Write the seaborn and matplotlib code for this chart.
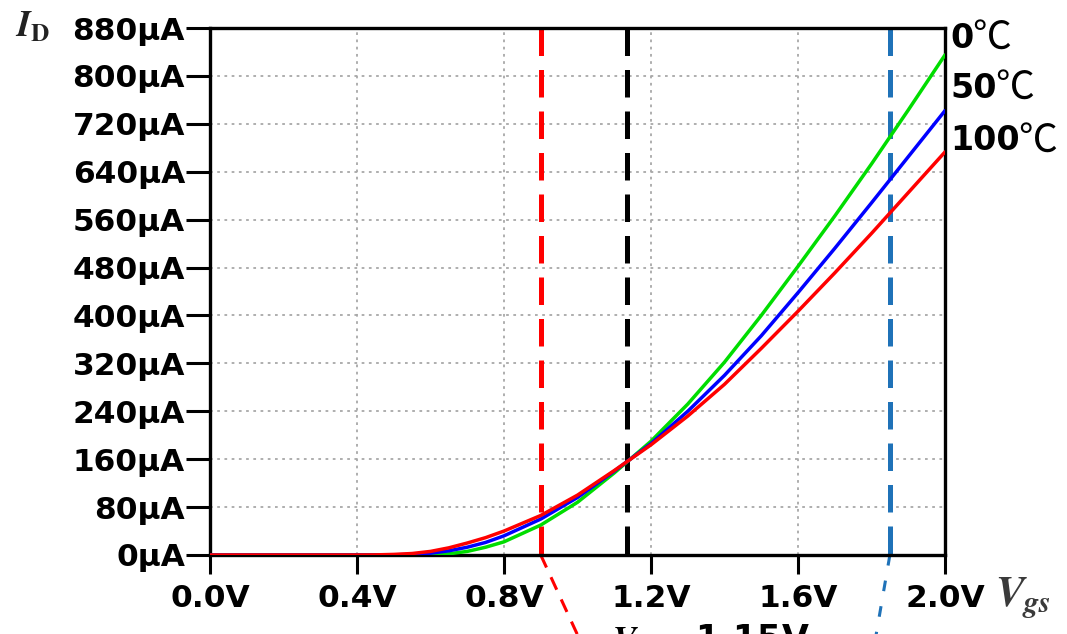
import matplotlib
matplotlib.use("Agg")
import matplotlib.pyplot as plt
import pandas as pd
import seaborn as sns

# Drain current versus gate-source voltage at three temperatures
vgs = [0.0, 0.4, 0.45, 0.5, 0.55, 0.6, 0.65, 0.7, 0.75, 0.8, 0.9, 1.0,
       1.1, 1.2, 1.3, 1.4, 1.5, 1.6, 1.7, 1.8, 1.9, 2.0]
id_0c = [0, 0, 0, 0, 0, 0.5, 2, 6, 13, 22, 50, 88,
         137, 190, 252, 322, 400, 482, 566, 653, 743, 835]
id_50c = [0, 0, 0, 0.3, 1, 3, 7, 13, 21, 32, 60, 96,
          140, 186, 240, 300, 366, 438, 512, 588, 665, 742]
id_100c = [0, 0, 0.2, 1, 2.5, 6, 12, 20, 29, 40, 66, 100,
           141, 184, 232, 285, 345, 407, 471, 537, 605, 673]

temp_values = ["0", "50", "100"]
temp_unit = "℃"
temps = [v + temp_unit for v in temp_values]
colors = ["#00dd00", "#0000ff", "#ff0000"]

y_ticks = [0, 80, 160, 240, 320, 400, 480, 560, 640, 720, 800, 880]
x_ticks = [0.0, 0.4, 0.8, 1.2, 1.6, 2.0]

# Marker voltages: low bound, zero-temperature-coefficient point, high bound
v_low = 0.9
v_ztc = 1.135
v_high = 1.85
ztc_label = "1.15V"

df = pd.concat([
    pd.DataFrame({"Vgs": vgs, "Id": vals, "T": t})
    for t, vals in zip(temps, [id_0c, id_50c, id_100c])
])

sns.set_theme(style="white")
plt.rcParams["font.family"] = ["DejaVu Sans", "Noto Sans CJK SC"]
plt.rcParams["font.weight"] = "bold"
plt.rcParams["mathtext.fontset"] = "stix"

fig = plt.figure(figsize=(10.67, 6.34), dpi=100)
ax = fig.add_axes([210 / 1067, 1 - 555 / 634, 735 / 1067, 527 / 634])

# Dashed marker lines behind the curves
dash = (0, (5.5, 2.8))
ax.plot([v_low, v_low], [880, 0], color="#ff0000", lw=3.6, ls=dash, zorder=2)
ax.plot([v_ztc, v_ztc], [880, 0], color="#000000", lw=3.6, ls=dash, zorder=2)
ax.plot([v_high, v_high], [880, 0], color="#1f72b8", lw=3.6, ls=dash, zorder=2)

sns.lineplot(data=df, x="Vgs", y="Id", hue="T", palette=colors,
             hue_order=temps, lw=2.5, legend=False, ax=ax, zorder=3)

# Leader lines running below the axis
ax.plot([v_low, 1.02], [0, -160], color="#ff0000", lw=2.2,
        ls=(0, (4.5, 3.5)), clip_on=False, zorder=2)
ax.plot([v_high, 1.805], [0, -160], color="#1f72b8", lw=2.2,
        ls=(0, (3.5, 5)), clip_on=False, zorder=2)

ax.set_xlim(0, 2.0)
ax.set_ylim(0, 880)
ax.set_xticks(x_ticks)
ax.set_xticklabels([f"{v:.1f}V" for v in x_ticks])
ax.set_yticks(y_ticks)
ax.set_yticklabels([f"{v}µA" for v in y_ticks])
ax.set_xlabel("")
ax.set_ylabel("")

ax.grid(True, color="#a8a8a8", ls=(0, (1.5, 2.5)), lw=1.3)
for s in ax.spines.values():
    s.set_color("black")
    s.set_linewidth(2.4)

ax.tick_params(axis="y", direction="out", length=17, width=2.2, pad=1,
               labelsize=22.5, colors="black", left=True)
ax.tick_params(axis="x", direction="out", length=14, width=2.2, pad=7,
               labelsize=22.5, colors="black", bottom=True)
for lab in ax.get_xticklabels() + ax.get_yticklabels():
    lab.set_fontweight("bold")

# Curve labels at the right edge: bold number followed by the unit sign
for val, ypx in zip(temp_values, [38, 88, 141]):
    num = fig.text(950 / 1067, 1 - ypx / 634, val, fontsize=24,
                   fontweight="bold", ha="left", va="center", color="black")
    ax.annotate(temp_unit, xy=(1, 0.5), xycoords=num, xytext=(-1, 0),
                textcoords="offset points", fontsize=28, fontweight="medium",
                ha="left", va="center", color="black",
                family=["Noto Sans CJK SC", "DejaVu Sans"],
                annotation_clip=False)

# Axis names
fig.text(15 / 1067, 1 - 27 / 634, r"$I_\mathrm{D}$", fontsize=26,
         ha="left", va="center", color="#222222")
fig.text(995 / 1067, 1 - 598 / 634, r"$V_{gs}$", fontsize=31,
         ha="left", va="center", color="#3a3a3a")

# Crossing-point annotation along the lower edge
fig.text(612 / 1067, -16 / 634, r"$V_{gs}=$" + ztc_label,
         fontsize=25, fontweight="bold", ha="left", va="baseline",
         color="black")

fig.savefig("out.png", dpi=100)
